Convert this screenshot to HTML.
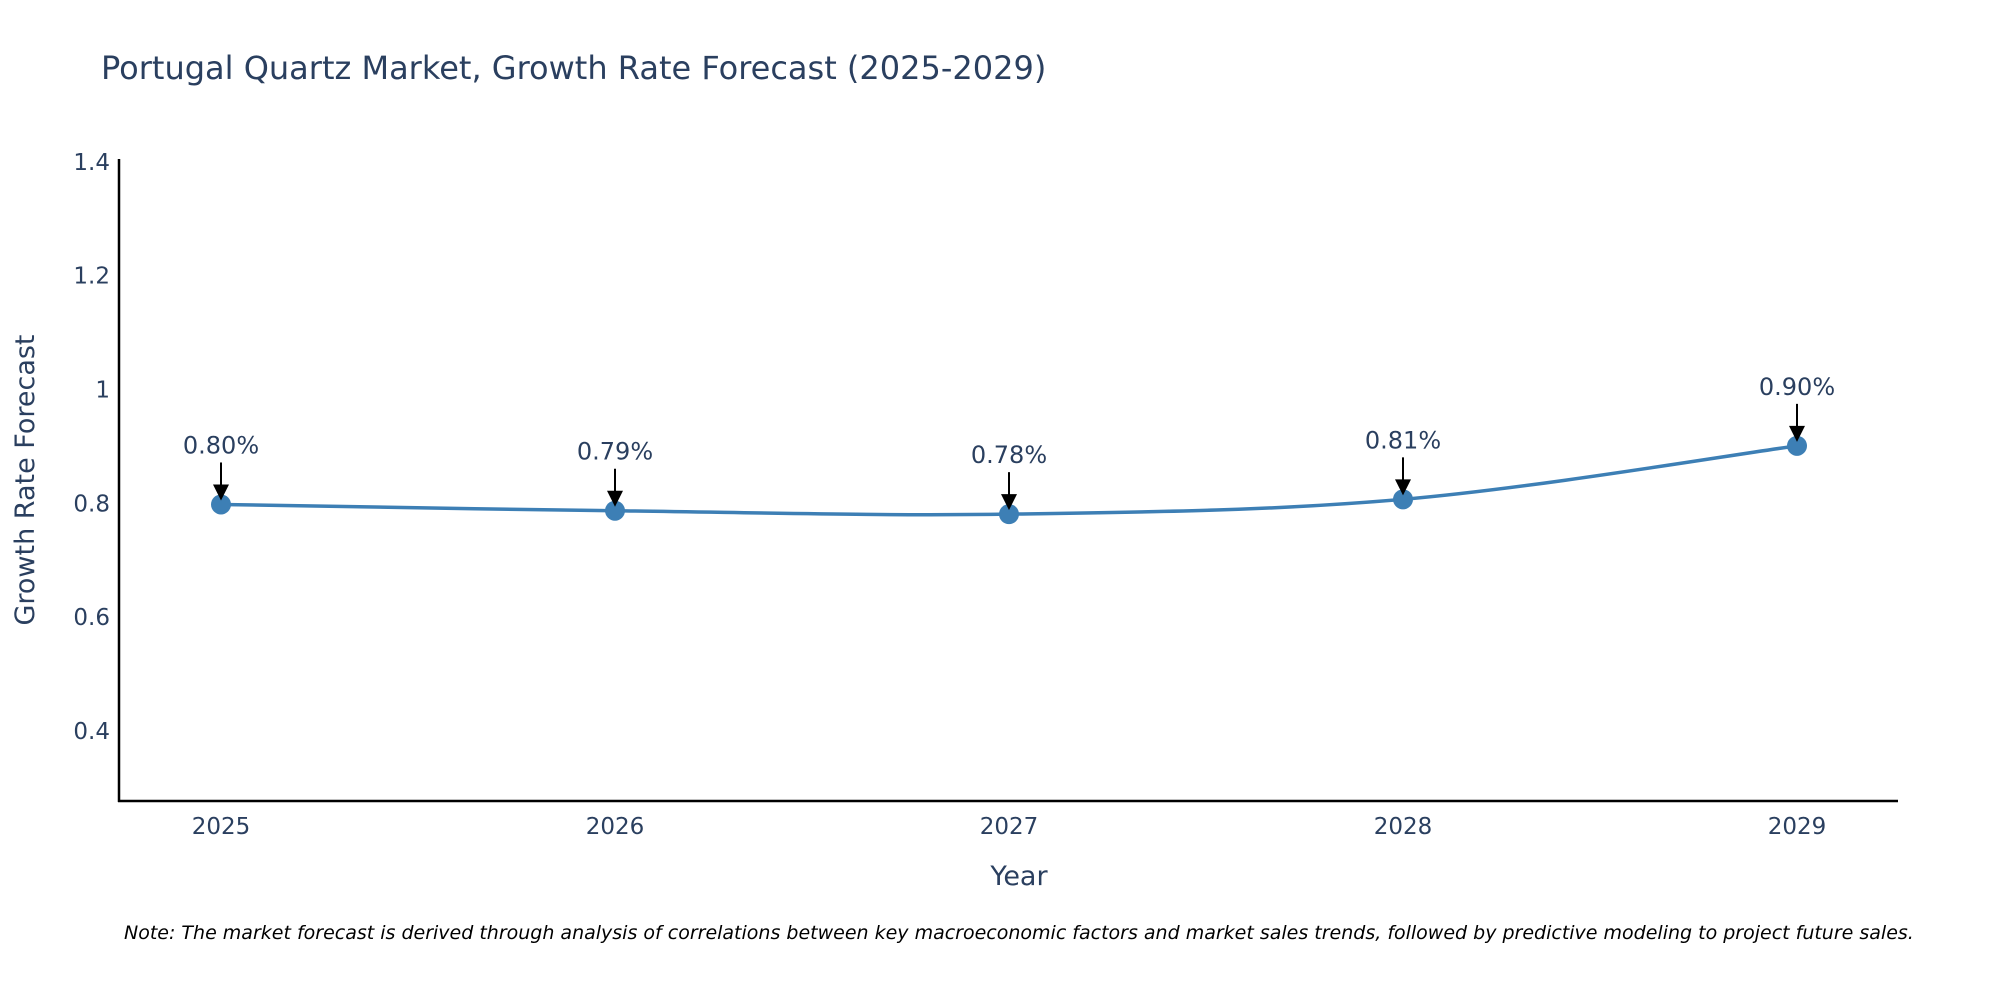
<!DOCTYPE html>
<html><head><meta charset="utf-8">
<style>
html,body{margin:0;padding:0;background:#fff;overflow:hidden;}
svg{display:block;font-family:"DejaVu Sans","Liberation Sans",sans-serif;}
</style></head>
<body>
<svg id="chart" width="2000" height="1000" viewBox="0 0 2000 1000" xmlns="http://www.w3.org/2000/svg">
<text x="101" y="79" font-size="32" fill="#2a3f5f">Portugal Quartz Market, Growth Rate Forecast (2025-2029)</text>
<g id="yticks"></g>
<g id="xticks"></g>
<line x1="119" y1="159" x2="119" y2="802" stroke="#000" stroke-width="2.5"/>
<line x1="118" y1="801" x2="1898" y2="801" stroke="#000" stroke-width="2.5"/>
<text transform="translate(34,480) rotate(-90)" text-anchor="middle" font-size="27" fill="#2a3f5f">Growth Rate Forecast</text>
<text x="1019" y="885" text-anchor="middle" font-size="27" fill="#2a3f5f">Year</text>
<g id="series"></g>
<g id="annots"></g>
<text x="124" y="939" font-size="19" font-style="italic" fill="#000">Note: The market forecast is derived through analysis of correlations between key macroeconomic factors and market sales trends, followed by predictive modeling to project future sales.</text>
</svg>
<script>
const categories = ["2025","2026","2027","2028","2029"];
const values = [0.798, 0.787, 0.781, 0.807, 0.901];
const valueLabels = ["0.80%","0.79%","0.78%","0.81%","0.90%"];
const yTicks = [0.4, 0.6, 0.8, 1, 1.2, 1.4];
const yTickLabels = ["0.4","0.6","0.8","1","1.2","1.4"];

const NS = "http://www.w3.org/2000/svg";
const X0 = 221, X1 = 1797;
const yMin = 0.277, yMax = 1.405, yTop = 159, yBot = 801;
function xScale(i){ return X0 + (X1 - X0) * i / (categories.length - 1); }
function yScale(v){ return yBot - (v - yMin) / (yMax - yMin) * (yBot - yTop); }
function mk(tag, attrs, parent){ const e = document.createElementNS(NS, tag); for (const k in attrs) e.setAttribute(k, attrs[k]); parent.appendChild(e); return e; }

const yt = document.getElementById('yticks');
yTicks.forEach((v, i) => {
  const t = mk('text', {x: 110, y: yScale(v) + 8, 'text-anchor': 'end', 'font-size': 23, fill: '#2a3f5f'}, yt);
  
  
  t.textContent = yTickLabels[i];
});
const xt = document.getElementById('xticks');
categories.forEach((c, i) => {
  const t = mk('text', {x: xScale(i), y: 834, 'text-anchor': 'middle', 'font-size': 23, fill: '#2a3f5f'}, xt);
  
  
  t.textContent = c;
});

const pts = values.map((v, i) => [xScale(i), yScale(v)]);
let d = "M" + pts[0][0] + "," + pts[0][1];
const tension = 0.17;
for (let i = 0; i < pts.length - 1; i++) {
  const p0 = pts[Math.max(0, i - 1)], p1 = pts[i], p2 = pts[i + 1], p3 = pts[Math.min(pts.length - 1, i + 2)];
  const c1 = [p1[0] + (p2[0] - p0[0]) * tension, p1[1] + (p2[1] - p0[1]) * tension];
  const c2 = [p2[0] - (p3[0] - p1[0]) * tension, p2[1] - (p3[1] - p1[1]) * tension];
  d += " C" + c1[0] + "," + c1[1] + " " + c2[0] + "," + c2[1] + " " + p2[0] + "," + p2[1];
}
const s = document.getElementById('series');
const line = mk('path', {d: d, fill: 'none', stroke: '#3d7fb5', 'stroke-width': 3.5}, s);


pts.forEach(p => {
  const c = mk('circle', {cx: p[0], cy: p[1], r: 10, fill: '#3d7fb5'}, s);
  
  
});

const a = document.getElementById('annots');
pts.forEach((p, i) => {
  const ln = mk('line', {x1: p[0], y1: p[1] - 42, x2: p[0], y2: p[1] - 16, stroke: '#000', 'stroke-width': 2}, a);
  
  
  const hd = mk('polygon', {points: (p[0]-8)+","+(p[1]-20)+" "+(p[0]+8)+","+(p[1]-20)+" "+p[0]+","+(p[1]-4), fill: '#000'}, a);
  
  
  const t = mk('text', {x: p[0], y: p[1] - 51, 'text-anchor': 'middle', 'font-size': 24, fill: '#2a3f5f'}, a);
  
  
  t.textContent = valueLabels[i];
});
</script>
</body></html>
